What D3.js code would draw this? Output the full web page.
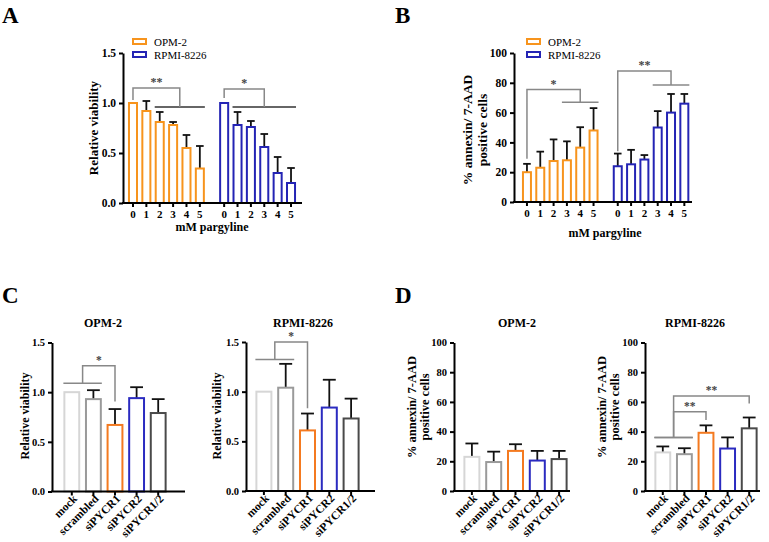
<!DOCTYPE html>
<html>
<head>
<meta charset="utf-8">
<script src="https://cdn.jsdelivr.net/npm/d3@7"></script>
<style>
  body { margin: 0; background: #fff; }
  text { font-family: "Liberation Serif", "Times New Roman", serif; }
</style>
</head>
<body>
<script>
var W = 769, H = 542;
var FONT = "Liberation Serif, Times New Roman, serif";

// ---- data ----
var doses = ["0", "1", "2", "3", "4", "5"];
var cellLines = ["OPM-2", "RPMI-8226"];
var conditions = ["mock", "scrambled", "siPYCR1", "siPYCR2", "siPYCR1/2"];

// A: relative viability vs pargyline
var viabOPM = [1.0, 0.92, 0.81, 0.78, 0.55, 0.345];
var viabOPMsd = [0, 0.10, 0.10, 0.03, 0.13, 0.225];
var viabRPMI = [1.0, 0.78, 0.76, 0.56, 0.30, 0.20];
var viabRPMIsd = [0, 0.13, 0.06, 0.13, 0.16, 0.15];

// B: % annexin / 7-AAD positive vs pargyline
var apopOPM = [20, 23, 27.5, 28, 36.5, 48];
var apopOPMsd = [5.6, 10.8, 14.5, 12.7, 13.7, 15];
var apopRPMI = [24, 25.3, 28.5, 50, 60, 66];
var apopRPMIsd = [8.5, 9.7, 3, 11, 12.5, 6.5];

// C: relative viability after siRNA
var siViabOPM = [1.0, 0.93, 0.67, 0.94, 0.79];
var siViabOPMsd = [0, 0.09, 0.16, 0.11, 0.14];
var siViabRPMI = [1.0, 1.04, 0.61, 0.84, 0.73];
var siViabRPMIsd = [0, 0.24, 0.17, 0.28, 0.20];

// D: % annexin / 7-AAD positive after siRNA
var siApopOPM = [23, 19.5, 27, 20.5, 21.5];
var siApopOPMsd = [9, 7, 4.5, 6.5, 5.5];
var siApopRPMI = [26, 24.8, 39.2, 28.6, 42.2];
var siApopRPMIsd = [4, 4, 5, 7.5, 7.3];

// significance brackets (bar = single bar, line = span of bars)
var sigA = [
  { group: 0, bar: 0, barY: 1.03, topY: 1.15, line: [2, 5], lineY: 0.96, label: "**" },
  { group: 1, bar: 0, barY: 1.05, topY: 1.14, line: [1, 5], lineY: 0.96, label: "*" }
];
var sigB = [
  { group: 0, bar: 0, barY: 29, topY: 75.5, line: [3, 5], lineY: 67, label: "*" },
  { group: 1, bar: 0, barY: 34, topY: 88, line: [3, 5], lineY: 78.5, label: "**" }
];
var sigCOPM = [{ bar: 2, barY: 0.905, topY: 1.265, line: [0, 1], lineY: 1.09, label: "*" }];
var sigCRPMI = [{ bar: 2, barY: 0.833, topY: 1.50, line: [0, 1], lineY: 1.323, label: "*" }];
var sigDRPMI = [
  { bar: 2, barY: 47.8, topY: 53.4, line: [0, 1], lineY: 36.1, label: "**" },
  { bar: 4, barY: 59, topY: 64, line: [0, 1], lineY: 36.1, label: "**" }
];

var lineColors = { "OPM-2": "#f7941d", "RPMI-8226": "#2424b4" };
var condColors = ["#d6d6d6", "#9a9a9a", "#f47a20", "#2b2bc0", "#4a4a4a"];

var svg = d3.select("body").append("svg")
  .attr("width", W).attr("height", H)
  .style("background", "#fff");

function panelLetter(t, x, y) {
  svg.append("text").attr("x", x).attr("y", y)
    .attr("font-size", 23).attr("font-weight", "bold").text(t);
}

function leftAxis(y, x0, tickVals, fmt, fs) {
  var g = svg.append("g")
    .attr("transform", "translate(" + x0 + ",0)")
    .call(d3.axisLeft(y).tickValues(tickVals).tickFormat(fmt).tickSize(4).tickSizeOuter(0));
  g.attr("font-family", FONT);
  g.select(".domain").attr("stroke-width", 2).attr("stroke", "#000");
  g.selectAll(".tick line").attr("stroke-width", 2);
  g.selectAll(".tick text").attr("font-size", fs).attr("font-weight", "bold").attr("fill", "#000");
  return g;
}

function baseLine(x0, x1, y0) {
  svg.append("line").attr("x1", x0 - 1).attr("x2", x1).attr("y1", y0).attr("y2", y0)
    .attr("stroke", "#000").attr("stroke-width", 2);
}

function yLabel(lines, x, y, fs, gap) {
  var t = svg.append("text")
    .attr("transform", "translate(" + x + "," + y + ") rotate(-90)")
    .attr("text-anchor", "middle").attr("font-size", fs).attr("font-weight", "bold");
  lines.forEach(function (l, i) {
    t.append("tspan").attr("x", 0).attr("y", i * gap).attr("dy", "0.35em").text(l);
  });
}

function title(t, x, y, fs) {
  svg.append("text").attr("x", x).attr("y", y).attr("text-anchor", "middle")
    .attr("font-size", fs).attr("font-weight", "bold").text(t);
}

function bars(xl, bw, y, vals, sds, colorOf) {
  var g = svg.append("g");
  vals.forEach(function (v, i) {
    var c = xl(i) + bw / 2;
    if (sds[i] > 0) {
      g.append("line").attr("x1", c).attr("x2", c)
        .attr("y1", y(v)).attr("y2", y(v + sds[i]))
        .attr("stroke", "#111").attr("stroke-width", 1.8);
      g.append("line").attr("x1", c - bw * 0.38).attr("x2", c + bw * 0.38)
        .attr("y1", y(v + sds[i])).attr("y2", y(v + sds[i]))
        .attr("stroke", "#111").attr("stroke-width", 1.8);
    }
    g.append("rect").attr("x", xl(i) + 1).attr("width", bw - 2)
      .attr("y", y(v)).attr("height", y(0) - y(v))
      .attr("fill", "#fff").attr("stroke", colorOf(i)).attr("stroke-width", 2);
  });
}

function bracket(s, xc, xl, xr, y, lineCol, fs) {
  var xm = (xl(s.line[0]) + xr(s.line[1])) / 2;
  svg.append("line").attr("x1", xl(s.line[0])).attr("x2", xr(s.line[1]))
    .attr("y1", y(s.lineY)).attr("y2", y(s.lineY))
    .attr("stroke", lineCol).attr("stroke-width", 1.5);
  svg.append("path")
    .attr("d", "M" + xc(s.bar) + "," + y(s.barY) + "V" + y(s.topY) + "H" + xm + "V" + y(s.lineY))
    .attr("fill", "none").attr("stroke", "#888").attr("stroke-width", 1.5);
  svg.append("text").attr("x", (xc(s.bar) + xm) / 2).attr("y", y(s.topY) - 2)
    .attr("text-anchor", "middle").attr("font-size", fs).attr("font-weight", "bold")
    .attr("fill", "#444").text(s.label);
}

function legend(x, y) {
  cellLines.forEach(function (name, i) {
    svg.append("rect").attr("x", x).attr("y", y + i * 13).attr("width", 13).attr("height", 5)
      .attr("fill", "#fff").attr("stroke", lineColors[name]).attr("stroke-width", 2);
    svg.append("text").attr("x", x + 21).attr("y", y + i * 13 + 6.5)
      .attr("font-size", 11).text(name);
  });
}

// ---- grouped panels (A, B) ----
function groupedPanel(cfg) {
  var outer = d3.scaleBand().domain(cellLines).range(cfg.bandRange).paddingInner(0.12);
  var inner = d3.scaleBand().domain(doses).range([0, outer.bandwidth()])
    .paddingInner(0.25).paddingOuter(0.125);
  var y = d3.scaleLinear().domain(cfg.yDomain).range([cfg.yBottom, cfg.yTop]);
  var bw = inner.bandwidth();

  cfg.series.forEach(function (s, gi) {
    var gx = outer(cellLines[gi]);
    var xl = function (i) { return gx + inner(doses[i]); };
    bars(xl, bw, y, s.vals, s.sds, function () { return lineColors[cellLines[gi]]; });
    var ax = svg.append("g")
      .attr("transform", "translate(" + gx + "," + cfg.yBottom + ")")
      .call(d3.axisBottom(inner).tickSize(4).tickSizeOuter(0));
    ax.attr("font-family", FONT);
    ax.select(".domain").remove();
    ax.selectAll(".tick line").attr("stroke-width", 2);
    ax.selectAll(".tick text").attr("font-size", 11).attr("font-weight", "bold").attr("fill", "#000");
  });

  cfg.sig.forEach(function (s) {
    var gx = outer(cellLines[s.group]);
    var xl = function (i) { return gx + inner(doses[i]); };
    var xr = function (i) { return xl(i) + bw; };
    var xc = function (i) { return xl(i) + bw / 2; };
    bracket(s, xc, xl, xr, y, cfg.sigLineColor, 12);
  });

  baseLine(cfg.x0, cfg.x1, cfg.yBottom);
  leftAxis(y, cfg.x0, cfg.ticks, cfg.fmt, 11.5);
  return y;
}

groupedPanel({
  bandRange: [126.3, 297.7], x0: 123, x1: 302, yBottom: 203, yTop: 53,
  yDomain: [0, 1.5], ticks: [0, 0.5, 1.0, 1.5], fmt: d3.format(".1f"),
  series: [{ vals: viabOPM, sds: viabOPMsd }, { vals: viabRPMI, sds: viabRPMIsd }],
  sig: sigA, sigLineColor: "#333"
});
panelLetter("A", 2, 23);
legend(133, 39);
yLabel(["Relative viability"], 93, 128, 13, 0);
title("mM pargyline", 212, 231, 12);

groupedPanel({
  bandRange: [520.3, 691], x0: 514, x1: 692, yBottom: 202, yTop: 53,
  yDomain: [0, 100], ticks: [0, 20, 40, 60, 80, 100], fmt: d3.format("d"),
  series: [{ vals: apopOPM, sds: apopOPMsd }, { vals: apopRPMI, sds: apopRPMIsd }],
  sig: sigB, sigLineColor: "#888"
});
panelLetter("B", 395, 23);
legend(527, 39);
yLabel(["% annexin/ 7-AAD", "positive cells"], 467, 130, 13.5, 15);
title("mM pargyline", 605, 237, 12);

// ---- siRNA panels (C, D) ----
function siPanel(cfg) {
  var x = d3.scaleBand().domain(conditions).range(cfg.bandRange)
    .paddingInner(0.22).paddingOuter(0.11);
  var y = d3.scaleLinear().domain(cfg.yDomain).range([cfg.yBottom, cfg.yTop]);
  var bw = x.bandwidth();
  var xl = function (i) { return x(conditions[i]); };
  var xr = function (i) { return xl(i) + bw; };
  var xc = function (i) { return xl(i) + bw / 2; };

  bars(xl, bw, y, cfg.vals, cfg.sds, function (i) { return condColors[i]; });
  cfg.sig.forEach(function (s) { bracket(s, xc, xl, xr, y, "#888", 11.5); });

  var ax = svg.append("g")
    .attr("transform", "translate(0," + cfg.yBottom + ")")
    .call(d3.axisBottom(x).tickSize(4).tickSizeOuter(0));
  ax.attr("font-family", FONT);
  ax.select(".domain").remove();
  ax.selectAll(".tick line").attr("stroke-width", 2);
  ax.selectAll(".tick text")
    .attr("font-size", 11.5).attr("font-weight", "bold").attr("fill", "#000")
    .attr("text-anchor", "end").attr("y", 0).attr("dy", 0)
    .attr("transform", "translate(6,8) rotate(-45)");

  baseLine(cfg.x0, cfg.x1, cfg.yBottom);
  leftAxis(y, cfg.x0, cfg.ticks, cfg.fmt, 10.5);
  title(cfg.title, cfg.titleX, 327, 12);
}

siPanel({
  bandRange: [61, 169], x0: 52, x1: 185, yBottom: 491.5, yTop: 342.5,
  yDomain: [0, 1.5], ticks: [0, 0.5, 1.0, 1.5], fmt: d3.format(".1f"),
  vals: siViabOPM, sds: siViabOPMsd, sig: sigCOPM, title: "OPM-2", titleX: 103
});
siPanel({
  bandRange: [253, 362], x0: 246, x1: 375, yBottom: 491, yTop: 342,
  yDomain: [0, 1.5], ticks: [0, 0.5, 1.0, 1.5], fmt: d3.format(".1f"),
  vals: siViabRPMI, sds: siViabRPMIsd, sig: sigCRPMI, title: "RPMI-8226", titleX: 303
});
panelLetter("C", 2, 303);
yLabel(["Relative viability"], 25, 416, 12, 0);
yLabel(["Relative viability"], 217, 416, 12, 0);

siPanel({
  bandRange: [461, 570], x0: 454, x1: 570, yBottom: 491, yTop: 342.5,
  yDomain: [0, 100], ticks: [0, 20, 40, 60, 80, 100], fmt: d3.format("d"),
  vals: siApopOPM, sds: siApopOPMsd, sig: [], title: "OPM-2", titleX: 517
});
siPanel({
  bandRange: [652, 760], x0: 645, x1: 760, yBottom: 491, yTop: 342.5,
  yDomain: [0, 100], ticks: [0, 20, 40, 60, 80, 100], fmt: d3.format("d"),
  vals: siApopRPMI, sds: siApopRPMIsd, sig: sigDRPMI, title: "RPMI-8226", titleX: 695
});
panelLetter("D", 395, 303);
yLabel(["% annexin/ 7-AAD", "positive cells"], 412, 407, 12.5, 13);
yLabel(["% annexin/ 7-AAD", "positive cells"], 602, 407, 12.5, 13);
</script>
</body>
</html>
